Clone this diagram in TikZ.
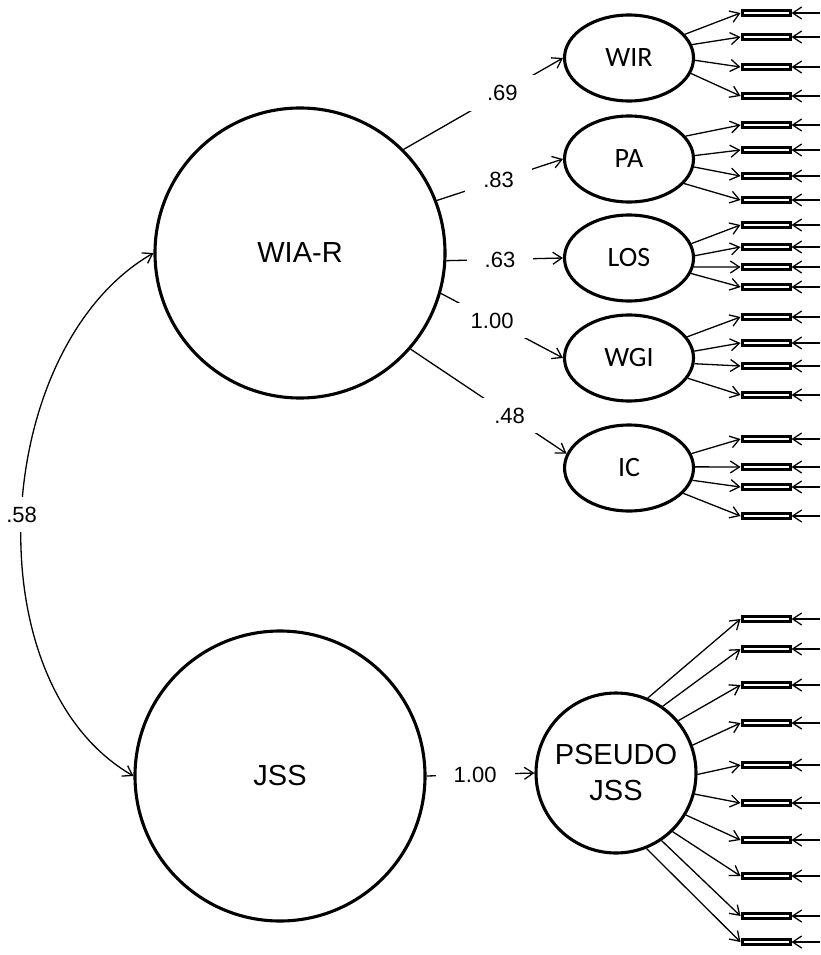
\documentclass[tikz,border=0pt]{standalone}
\usepackage{fontspec}
\setmainfont{Liberation Sans}
\newfontfamily\calib{Carlito}
\usetikzlibrary{arrows.meta,shapes.geometric}

\begin{document}
\begin{tikzpicture}[x=1pt, y=-1pt, >={Straight Barb[length=9pt, width=12pt]},
          latent/.style={draw, circle, line width=3.1pt, inner sep=0pt, align=center, font=\fontsize{29}{36}\selectfont},
          factor/.style={draw, ellipse, line width=3.1pt, minimum width=129pt, minimum height=86pt, inner sep=0pt, font=\calib\fontsize{28}{34}\selectfont},
          ind/.style={draw, line width=3pt, minimum width=48pt, minimum height=5pt, inner sep=0pt},
          load/.style={fill=white, inner xsep=18pt, inner ysep=10pt, font=\fontsize{22}{26}\selectfont},
          arr/.style={->, line width=1.3pt}]
        \useasboundingbox (0,0) rectangle (820,955);
        \node[latent, minimum size=290pt] (wiar) at (300,253) {WIA-R};
        \node[latent, minimum size=290pt] (jss) at (280,776) {JSS};
        \node[latent, minimum size=160pt] (pj) at (616,773) {PSEUDO\\JSS};
        \node[factor] (wir) at (629,58) {WIR};
        \node[factor] (pa) at (629,159) {PA};
        \node[factor] (los) at (629,258) {LOS};
        \node[factor] (wgi) at (629,358) {WGI};
        \node[factor] (ic) at (629,468) {IC};
        \draw[arr] (wiar.45) -- node[pos=.62, load] {.69} (wir.west);
        \draw[arr] (wiar.21) -- node[pos=.49, load] {.83} (pa.west);
        \draw[arr] (wiar.-3) -- node[pos=.46, load] {.63} (los.west);
        \draw[arr] (wiar.-16) -- node[pos=.42, load] {1.00} (wgi.west);
        \draw[arr] (wiar.-41) -- node[pos=.635, load] {.48} (ic.167);
        \draw[arr] (jss.east) -- node[pos=.45, load] {1.00} (pj.west);
        \draw[arr, <->] (wiar.west) .. controls (-9,347) and (-29,682) .. node[pos=.5, load] {.58} (jss.west);
        \foreach \lat/\a/\y [count=\i] in {wir/23/13, wir/12/37, wir/-2/67, wir/-14/96,
            pa/22/125, pa/3/150, pa/-7/176, pa/-24/200,
            los/13/225, los/2/247, los/-8/267, los/-14/287,
            wgi/20/317, wgi/6/343, wgi/-5/366, wgi/-19/395,
            ic/13/439, ic/1/467, ic/-11/487, ic/-25/516,
            pj/67/619, pj/55/649, pj/40/685, pj/20/723, pj/-1/765,
            pj/-15/803, pj/-31/840, pj/-46/876, pj/-56/916, pj/-68/942} {
          \node[ind] (b\i) at (766,\y) {};
          \coordinate (e\i) at (820,\y);
          \draw[arr] (\lat.\a) -- (b\i.west);
          \draw[arr] (e\i) -- (b\i.east);
        }
      \end{tikzpicture}
\end{document}
